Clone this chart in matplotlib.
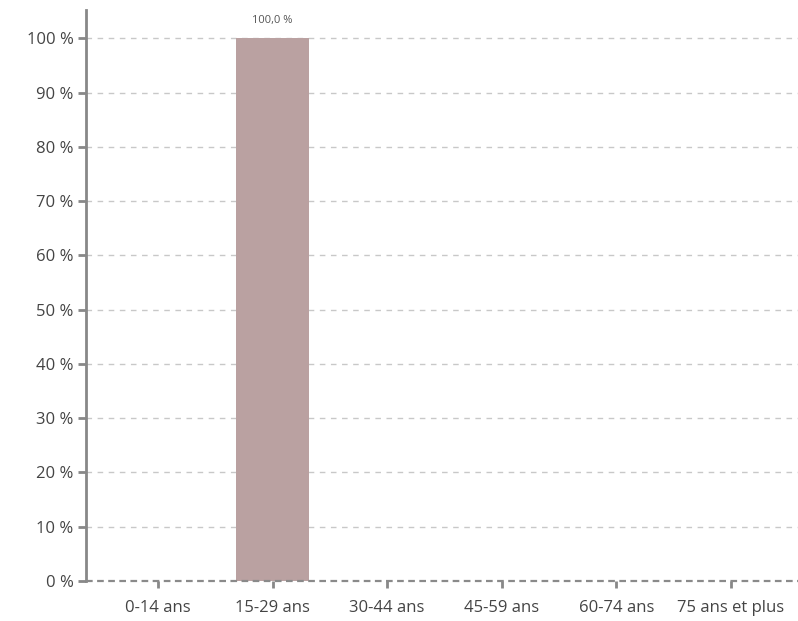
import matplotlib
matplotlib.use("Agg")
import matplotlib.pyplot as plt

categories = ["0-14 ans", "15-29 ans", "30-44 ans", "45-59 ans", "60-74 ans", "75 ans et plus"]
values = [0, 100.0, 0, 0, 0, 0]
y_ticks = [0, 10, 20, 30, 40, 50, 60, 70, 80, 90, 100]

plt.rcParams['font.family'] = ['Open Sans', 'DejaVu Sans']

fig = plt.figure(figsize=(7.98, 6.21), dpi=100)
ax = fig.add_axes([86 / 798, 1 - 581 / 621, 712 / 798, 571 / 621])

x = list(range(len(categories)))
ax.bar(x, values, width=0.63, color="#baa1a1", zorder=3)

# value label above non-empty bars
for xi, v in zip(x, values):
    if v > 0:
        ax.text(xi, v + 2.3, f"{v:.1f} %".replace(".", ","), ha="center", va="bottom",
                fontsize=8, color="#555555")

ax.set_xlim(-0.628, 5.585)
ax.set_ylim(0, 105.2)
ax.set_yticks(y_ticks)
ax.set_yticklabels([f"{t} %" for t in y_ticks])
ax.set_xticks(x)
ax.set_xticklabels(categories)

ax.grid(axis="y", color="#c8c8c8", linestyle=(0, (4, 4)), linewidth=1, zorder=0)
ax.axhline(0, color="#8a8a8a", linestyle=(0, (3, 2)), linewidth=1.6, zorder=4, clip_on=False)

for s in ["top", "right", "bottom"]:
    ax.spines[s].set_visible(False)
ax.spines["left"].set_color("#888888")
ax.spines["left"].set_linewidth(2)

ax.tick_params(axis="y", length=6, width=2, color="#888888", labelsize=12, labelcolor="#444444", pad=3)
ax.tick_params(axis="x", length=5, width=2, color="#888888", labelsize=12, labelcolor="#444444", pad=9)

fig.savefig("out.png", dpi=100)
